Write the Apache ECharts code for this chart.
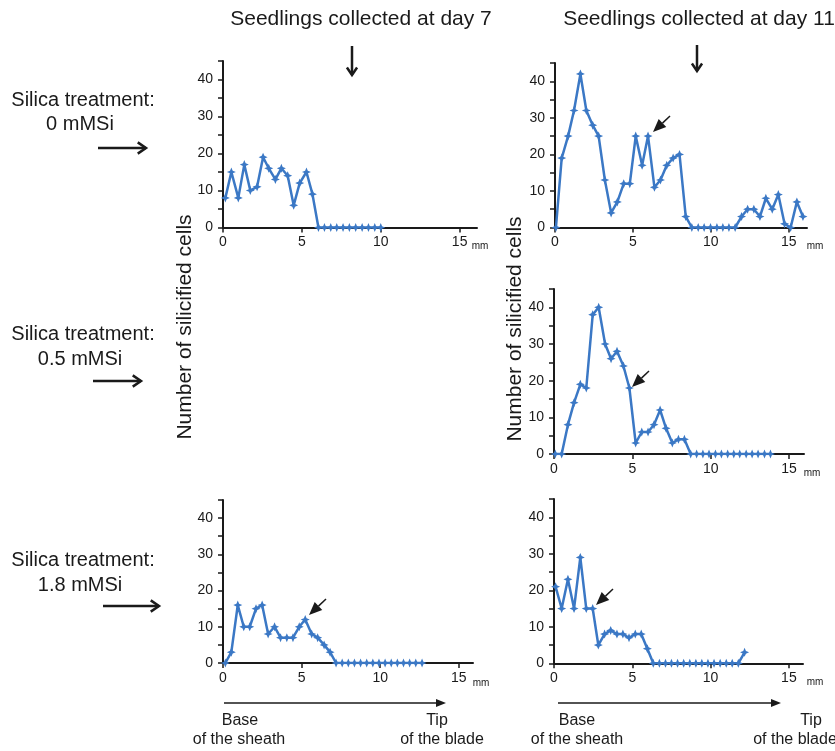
<!DOCTYPE html>
<html>
<head>
<meta charset="utf-8">
<script src="https://cdn.jsdelivr.net/npm/echarts@6/dist/echarts.min.js"></script>
<style>
  html, body { margin: 0; padding: 0; background: #fff; }
  #chart { width: 835px; height: 751px; }
</style>
</head>
<body>
<div id="chart"></div>
<script>
// distance from the base (mm) and number of silicified cells, one pair of arrays per panel
const day7_0mM_x = [0.15, 0.53, 0.97, 1.35, 1.73, 2.16, 2.54, 2.9, 3.32, 3.7, 4.1, 4.48, 4.86, 5.29, 5.67,
  6.05, 6.43, 6.83, 7.21, 7.61, 8.01, 8.41, 8.82, 9.22, 9.62, 10.0];
const day7_0mM_y = [8, 15, 8, 17, 10, 11, 19, 16, 13, 16, 14, 6, 12, 15, 9,
  0, 0, 0, 0, 0, 0, 0, 0, 0, 0, 0];

const day11_0mM_x = [0.06, 0.43, 0.84, 1.22, 1.63, 2.01, 2.42, 2.8, 3.2, 3.6, 4.0, 4.41, 4.8, 5.18, 5.59,
  5.97, 6.38, 6.77, 7.17, 7.58, 7.99, 8.39, 8.78, 9.19, 9.57, 9.98, 10.39, 10.77, 11.16, 11.56,
  11.97, 12.36, 12.76, 13.15, 13.53, 13.94, 14.33, 14.73, 15.12, 15.52, 15.91];
const day11_0mM_y = [0, 19, 25, 32, 42, 32, 28, 25, 13, 4, 7, 12, 12, 25, 17,
  25, 11, 13, 17, 19, 20, 3, 0, 0, 0, 0, 0, 0, 0, 0,
  3, 5, 5, 3, 8, 5, 9, 1, 0, 7, 3];

const day11_05mM_x = [0.08, 0.49, 0.89, 1.28, 1.68, 2.06, 2.47, 2.85, 3.26, 3.64, 4.02, 4.43, 4.81, 5.21, 5.6,
  6.0, 6.38, 6.77, 7.15, 7.55, 7.94, 8.32, 8.72, 9.1, 9.5, 9.89, 10.3, 10.68, 11.08, 11.47,
  11.85, 12.26, 12.64, 13.02, 13.43, 13.81];
const day11_05mM_y = [0, 0, 8, 14, 19, 18, 38, 40, 30, 26, 28, 24, 18, 3, 6,
  6, 8, 12, 7, 3, 4, 4, 0, 0, 0, 0, 0, 0, 0, 0,
  0, 0, 0, 0, 0, 0];

const day7_18mM_x = [0.15, 0.53, 0.94, 1.32, 1.7, 2.1, 2.49, 2.87, 3.28, 3.66, 4.06, 4.45, 4.85, 5.23, 5.64,
  6.02, 6.43, 6.81, 7.19, 7.58, 7.97, 8.36, 8.75, 9.14, 9.53, 9.92, 10.31, 10.7, 11.09, 11.48,
  11.87, 12.26, 12.66];
const day7_18mM_y = [0, 3, 16, 10, 10, 15, 16, 8, 10, 7, 7, 7, 10, 12, 8,
  7, 5, 3, 0, 0, 0, 0, 0, 0, 0, 0, 0, 0, 0, 0,
  0, 0, 0];

const day11_18mM_x = [0.1, 0.49, 0.89, 1.28, 1.68, 2.06, 2.47, 2.83, 3.23, 3.62, 4.02, 4.4, 4.79, 5.19, 5.57,
  5.96, 6.34, 6.73, 7.12, 7.5, 7.89, 8.28, 8.67, 9.06, 9.44, 9.83, 10.22, 10.61, 11.0, 11.38,
  11.77, 12.17];
const day11_18mM_y = [21, 15, 23, 15, 29, 15, 15, 5, 8, 9, 8, 8, 7, 8, 8,
  4, 0, 0, 0, 0, 0, 0, 0, 0, 0, 0, 0, 0, 0, 0,
  0, 3];

const xTicks = [0, 5, 10, 15];
const yTicks = [0, 5, 10, 15, 20, 25, 30, 35, 40, 45];

const FONT = "'Liberation Sans', Arial, sans-serif";
const BLUE = '#3b78c5';
const INK = '#1a1a1a';
const STAR = 'path://M0,-10 L3,-3 L10,0 L3,3 L0,10 L-3,3 L-10,0 L-3,-3 Z';

// panels: grid in pixels + x max so the axis runs a bit past 15 mm
const panels = [
  { xs: day7_0mM_x, ys: day7_0mM_y, grid: { left: 223, top: 61, width: 254, height: 166.5 }, xmax: 16.1 },
  { xs: day11_0mM_x, ys: day11_0mM_y, grid: { left: 555, top: 63, width: 252, height: 164.5 }, xmax: 16.17 },
  { xs: day11_05mM_x, ys: day11_05mM_y, grid: { left: 554, top: 289, width: 250, height: 165 }, xmax: 15.95 },
  { xs: day7_18mM_x, ys: day7_18mM_y, grid: { left: 223, top: 500, width: 250, height: 163 }, xmax: 15.9 },
  { xs: day11_18mM_x, ys: day11_18mM_y, grid: { left: 554, top: 499, width: 249, height: 164.3 }, xmax: 15.9 },
];

const chart = echarts.init(document.getElementById('chart'), null, { renderer: 'canvas' });

function txt(x, y, text, size, extra) {
  return Object.assign({
    type: 'text', x: x, y: y,
    style: { text: text, font: size + 'px ' + FONT, fill: INK, textAlign: 'center', textVerticalAlign: 'middle' },
  }, extra || {});
}

function line(points, width) {
  return { type: 'polyline', shape: { points: points }, style: { stroke: INK, lineWidth: width, fill: null } };
}

// open chevron arrow (the big arrows)
function openArrow(x1, y1, x2, y2, head, width) {
  const a = Math.atan2(y2 - y1, x2 - x1);
  const p1 = [x2 - head * Math.cos(a - 0.6), y2 - head * Math.sin(a - 0.6)];
  const p2 = [x2 - head * Math.cos(a + 0.6), y2 - head * Math.sin(a + 0.6)];
  return [line([[x1, y1], [x2, y2]], width), line([p1, [x2, y2], p2], width)];
}

// thin shaft with a filled triangular head
function filledArrow(x1, y1, x2, y2, headLen, headW, width) {
  const a = Math.atan2(y2 - y1, x2 - x1);
  const bx = x2 - headLen * Math.cos(a), by = y2 - headLen * Math.sin(a);
  const nx = -Math.sin(a) * headW / 2, ny = Math.cos(a) * headW / 2;
  return [
    line([[x1, y1], [bx, by]], width),
    { type: 'polygon', shape: { points: [[x2, y2], [bx + nx, by + ny], [bx - nx, by - ny]] }, style: { fill: INK } },
  ];
}

const graphics = [
  txt(361, 19, 'Seedlings collected at day 7', 21),
  txt(699, 19, 'Seedlings collected at day 11', 21),
  ...openArrow(352, 46, 352, 75, 9, 2.5),
  ...openArrow(697, 45, 697, 71, 9, 2.5),

  txt(83, 100, 'Silica treatment:', 20),
  txt(80, 124, '0 mMSi', 20),
  ...openArrow(98, 148, 146, 148, 10, 2.5),
  txt(83, 334, 'Silica treatment:', 20),
  txt(80, 359, '0.5 mMSi', 20),
  ...openArrow(93, 381, 141, 381, 10, 2.5),
  txt(83, 560, 'Silica treatment:', 20),
  txt(80, 585, '1.8 mMSi', 20),
  ...openArrow(103, 606, 159, 606, 10, 2.5),

  txt(185, 327, 'Number of silicified cells', 21, { rotation: Math.PI / 2 }),
  txt(515, 329, 'Number of silicified cells', 21, { rotation: Math.PI / 2 }),

  txt(480, 246, 'mm', 10),
  txt(815, 246, 'mm', 10),
  txt(812, 473, 'mm', 10),
  txt(481, 683, 'mm', 10),
  txt(815, 682, 'mm', 10),

  // arrows marking points inside panels
  ...filledArrow(670, 116, 653, 132, 13, 11, 1.5),
  ...filledArrow(649, 371, 632, 387, 13, 11, 1.5),
  ...filledArrow(326, 599, 309, 615, 13, 11, 1.5),
  ...filledArrow(613, 589, 596, 605, 13, 11, 1.5),

  // base -> tip arrows under the bottom row
  ...filledArrow(224, 703, 446, 703, 10, 8, 1.3),
  ...filledArrow(558, 703, 781, 703, 10, 8, 1.3),
  txt(240, 721, 'Base', 16),
  txt(239, 740, 'of the sheath', 16),
  txt(437, 721, 'Tip', 16),
  txt(442, 740, 'of the blade', 16),
  txt(577, 721, 'Base', 16),
  txt(577, 740, 'of the sheath', 16),
  txt(811, 721, 'Tip', 16),
  txt(795, 740, 'of the blade', 16),
];

const option = {
  backgroundColor: '#fff',
  animation: false,
  grid: panels.map((p) => Object.assign({ containLabel: false }, p.grid)),
  xAxis: panels.map((p, i) => ({
    type: 'value', gridIndex: i, min: 0, max: p.xmax,
    axisLine: { show: true, onZero: false, lineStyle: { color: INK, width: 2 } },
    axisTick: { show: true, length: 5, customValues: xTicks, lineStyle: { color: INK, width: 1.5 } },
    axisLabel: { customValues: xTicks, color: INK, fontSize: 14, fontFamily: FONT, margin: 8 },
    splitLine: { show: false },
  })),
  yAxis: panels.map((p, i) => ({
    type: 'value', gridIndex: i, min: 0, max: 45,
    axisLine: { show: true, lineStyle: { color: INK, width: 2 } },
    axisTick: { show: true, length: 5, customValues: yTicks, lineStyle: { color: INK, width: 1.5 } },
    axisLabel: {
      customValues: yTicks, color: INK, fontSize: 14, fontFamily: FONT, margin: 10,
      formatter: (v) => (v % 10 === 0 ? String(v) : ''),
    },
    splitLine: { show: false },
  })),
  series: panels.map((p, i) => ({
    type: 'line', xAxisIndex: i, yAxisIndex: i,
    data: p.xs.map((x, k) => [x, p.ys[k]]),
    symbol: STAR, symbolSize: 9, showSymbol: true,
    lineStyle: { color: BLUE, width: 2.5 },
    itemStyle: { color: BLUE },
  })),
  graphic: graphics,
};

chart.setOption(option);
</script>
</body>
</html>
